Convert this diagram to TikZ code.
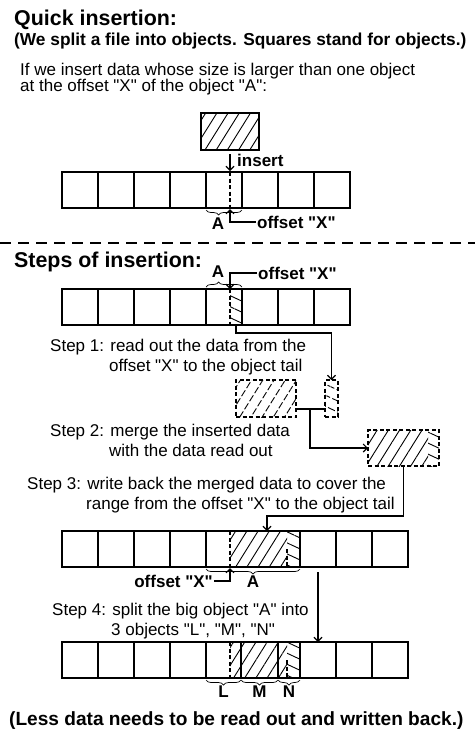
\documentclass[tikz,border=0pt]{standalone}
\usepackage{fontspec}
\setmainfont{Liberation Sans}[Ligatures=TeXOff]
\usetikzlibrary{arrows.meta,patterns.meta,decorations.pathreplacing,calc}
\tikzset{
  obj/.style={draw,line width=1.3pt,minimum width=36pt,minimum height=36pt,inner sep=0pt,outer sep=0pt},
  neu/.style={pattern={Lines[angle=58,distance=9.5pt,line width=0.9pt]}},
  alt/.style={pattern={Lines[angle=-25,distance=10pt,line width=0.9pt]}},
  dbox/.style={draw,line width=1.2pt,dash pattern=on 4pt off 2.5pt,inner sep=0pt,outer sep=0pt},
  cut/.style={line width=1.3pt,dash pattern=on 4pt off 2.5pt},
  pfeil/.style={-{Straight Barb[length=4pt,width=8pt]},line width=1.1pt},
  lin/.style={line width=1.1pt},
  klam/.style={decorate,decoration={brace,amplitude=5pt},line width=0.7pt},
  fett/.style={font=\fontsize{17}{17}\selectfont\bfseries,inner sep=0pt},
  txt/.style={font=\fontsize{17}{19.5}\selectfont,inner sep=0pt,align=left},
  head/.style={font=\fontsize{21.4}{24}\selectfont\bfseries,inner sep=0pt},
}
\newcommand{\einr}{\hspace*{59pt}}
\begin{document}
\begin{tikzpicture}[x=1pt,y=-1pt]
  \useasboundingbox (0,0) rectangle (475,729);
  % headings
  \node[head,anchor=base west] (titel) at (14,25) {Quick insertion:};
  \node[fett,font=\fontsize{17.3}{18}\selectfont\bfseries,anchor=base west] (hinweis) at (14,45) {(We split a file into objects. Squares stand for objects.)};
  \node[txt,font=\fontsize{17}{16}\selectfont,anchor=base west] (intro) at (20,91) {If we insert data whose size is larger than one object\\at the offset "X" of the object "A":};
  % quick insertion
  \node[obj,neu,minimum width=58pt,minimum height=37pt] (neudat) at (230,131.5) {};
  \foreach \i in {0,...,7} \node[obj] (ra\i) at ({80+36*\i},190) {};
  \coordinate (xa) at (230,172);
  \draw[cut] (xa) -- (xa |- ra4.south);
  \draw[pfeil,shorten <=4pt,shorten >=1pt] (neudat.south) -- (xa);
  \node[fett,anchor=west] (ins) at (237,160) {insert};
  \draw[klam,decoration={mirror,aspect=0.35}] ([yshift=-2pt]ra4.south west) -- ([yshift=-2pt]ra4.south east);
  \node[fett] (a1) at (218,224) {A};
  \node[fett,anchor=west] (offa) at (257,222) {offset "X"};
  \draw[pfeil] ([xshift=-1pt]offa.west) -| ([yshift=-1pt]xa |- ra4.south);
  % separator
  \draw[line width=1.2pt,dash pattern=on 11pt off 7pt] (0,243) -- (475,243);
  \node[head,anchor=base west] (schritte) at (14,267) {Steps of insertion:};
  % row before insertion
  \node[alt,minimum width=12pt,minimum height=36pt,inner sep=0pt,outer sep=0pt] (restb) at (236,307) {};
  \foreach \i in {0,...,7} \node[obj] (rb\i) at ({80+36*\i},307) {};
  \draw[cut] (restb.north west) -- (restb.south west);
  \draw[klam,decoration={aspect=0.35}] ([yshift=2pt]rb4.north west) -- ([yshift=2pt]rb4.north east);
  \node[fett] (a2) at (218,272) {A};
  \node[fett,anchor=west] (offb) at (258,273) {offset "X"};
  \draw[pfeil] ([xshift=-1pt]offb.west) -| (restb.north west);
  % step 1
  \node[txt,anchor=base west] (s1) at (50,371) {Step 1: read out the data from the\\\einr offset "X" to the object tail};
  \node[dbox,neu,minimum width=60pt,minimum height=37pt] (kopie) at (266,398.5) {};
  \node[dbox,alt,minimum width=13pt,minimum height=37pt] (ausgel) at (331.5,398.5) {};
  \draw[pfeil] (restb.south) -- ++(0,8) -| (ausgel.north);
  % step 2
  \node[txt,anchor=base west] (s2) at (50,456) {Step 2: merge the inserted data\\\einr with the data read out};
  \path[neu] (368,430) rectangle (428,466);
  \path[alt] (428,430) rectangle (439,466);
  \node[dbox,minimum width=71pt,minimum height=36pt] (misch) at (403.5,448) {};
  \coordinate (kn) at (310,409);
  \draw[lin] (kopie.east |- kn) -- (ausgel.west |- kn);
  \draw[pfeil] (kn) |- (misch.west);
  % step 3
  \node[txt,anchor=base west] (s3) at (27,509) {Step 3: write back the merged data to cover the\\\einr range from the offset "X" to the object tail};
  \path[neu] (230,531) rectangle (287,567);
  \path[alt] (287,531) rectangle (300,567);
  \foreach \i in {0,...,3} \node[obj] (rc\i) at ({80+36*\i},549) {};
  \node[obj,minimum width=94pt] (grossA) at (253,549) {};
  \foreach \i in {5,6,7} \node[obj] (rc\i) at ({318+36*(\i-5)},549) {};
  \draw[cut] (230,531) -- (230,567);
  \draw[cut] (287,549) -- (287,567);
  \draw[pfeil] (misch.south) -- ++(0,50) -| ([xshift=14pt]grossA.north);
  \draw[klam,decoration={mirror}] ([yshift=-2pt]grossA.south west) -- ([yshift=-2pt]grossA.south east);
  \node[fett] (a3) at (253,582) {A};
  \coordinate (xc) at (230,568);
  \node[fett,anchor=east] (offc) at (213,581) {offset "X"};
  \draw[pfeil] ([xshift=1pt]offc.east) -| (xc);
  % step 4
  \node[txt,anchor=base west] (s4) at (52,635) {Step 4: split the big object "A" into\\\einr 3 objects "L", "M", "N"};
  \path[neu] (230,642) rectangle (287,678);
  \path[alt] (287,642) rectangle (300,678);
  \foreach \i in {0,...,3} \node[obj] (rd\i) at ({80+36*\i},660) {};
  \node[obj,minimum width=35pt] (objL) at (223.5,660) {};
  \node[obj,minimum width=37pt] (objM) at (259.5,660) {};
  \node[obj,minimum width=22pt] (objN) at (289,660) {};
  \foreach \i in {5,6,7} \node[obj] (rd\i) at ({318+36*(\i-5)},660) {};
  \draw[cut] (230,642) -- (230,678);
  \draw[cut] (287,660) -- (287,678);
  \draw[pfeil,shorten <=5pt] (rc5.south) -- (rd5.north);
  \foreach \o/\t in {objL/L,objM/M,objN/N}{
    \draw[klam,decoration={mirror}] ([yshift=-2pt]\o.south west) -- ([yshift=-2pt]\o.south east);
    \node[fett] (lab\t) at ([yshift=-14pt]\o.south) {\t};
  }
  \node[fett,font=\fontsize{19.1}{20}\selectfont\bfseries,anchor=base west] (fazit) at (9,725) {(Less data needs to be read out and written back.)};
\end{tikzpicture}
\end{document}
